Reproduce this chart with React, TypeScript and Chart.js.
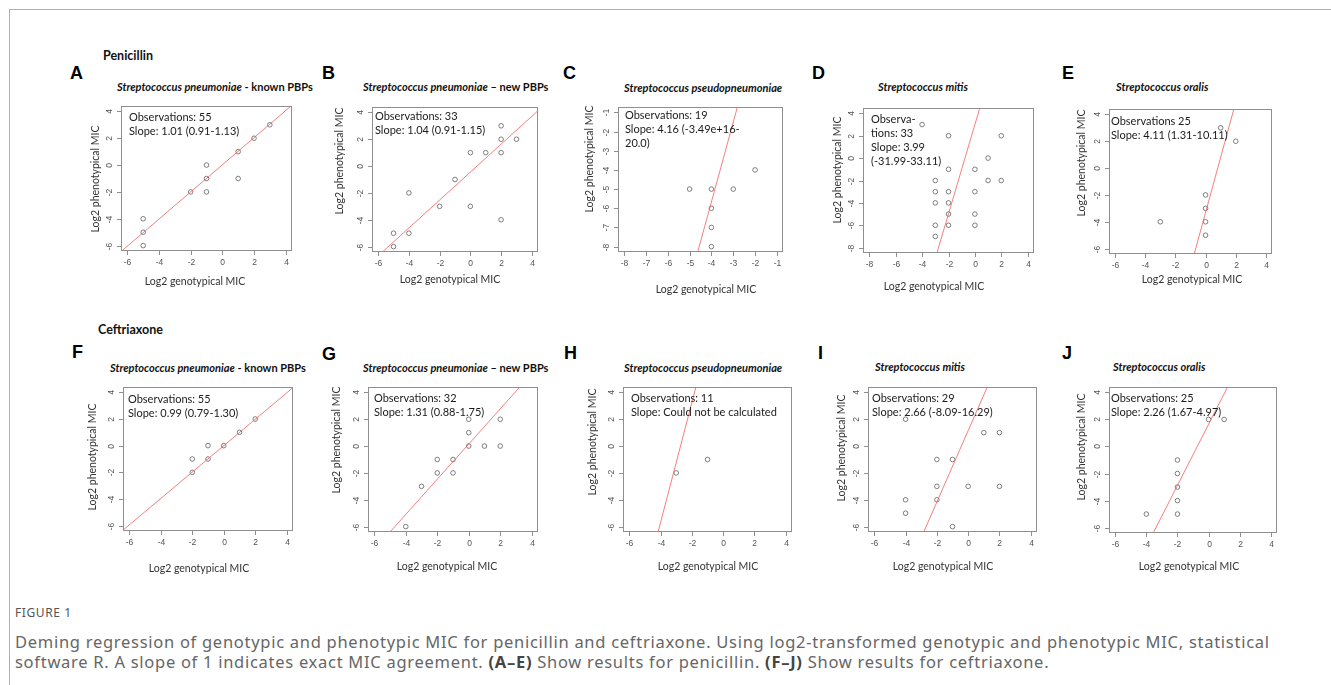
import React, { useEffect, useRef } from 'react';
import { Chart, registerables } from 'chart.js';

Chart.register(...registerables);

// ---------- text ----------
const panelLetters = ['A', 'B', 'C', 'D', 'E', 'F', 'G', 'H', 'I', 'J'];
const drugHeadings = ['Penicillin', 'Ceftriaxone'];
const speciesItalic = [
  'Streptococcus pneumoniae', 'Streptococcus pneumoniae', 'Streptococcus pseudopneumoniae', 'Streptococcus mitis', 'Streptococcus oralis',
  'Streptococcus pneumoniae', 'Streptococcus pneumoniae', 'Streptococcus pseudopneumoniae', 'Streptococcus mitis', 'Streptococcus oralis',
];
const speciesSuffix = [' - known PBPs', ' \u2013 new PBPs', '', '', '', ' - known PBPs', ' \u2013 new PBPs', '', '', ''];
const annotationLines = [
  ['Observations: 55', 'Slope: 1.01 (0.91-1.13)'],
  ['Observations: 33', 'Slope: 1.04 (0.91-1.15)'],
  ['Observations: 19', 'Slope: 4.16 (-3.49e+16-', '20.0)'],
  ['Observa-', 'tions: 33', 'Slope: 3.99', '(-31.99-33.11)'],
  ['Observations 25', 'Slope: 4.11 (1.31-10.11)'],
  ['Observations: 55', 'Slope: 0.99 (0.79-1.30)'],
  ['Observations: 32', 'Slope: 1.31 (0.88-1.75)'],
  ['Observations: 11', 'Slope: Could not be calculated'],
  ['Observations: 29', 'Slope: 2.66 (-8.09-16.29)'],
  ['Observations: 25', 'Slope: 2.26 (1.67-4.97)'],
];
const xAxisTitle = 'Log2 genotypical MIC';
const yAxisTitle = 'Log2 phenotypical MIC';

// ---------- tick labels ----------
const ticksStd = [-6, -4, -2, 0, 2, 4];
const ticksPseudo = [-8, -7, -6, -5, -4, -3, -2, -1];
const ticksMitis = [-8, -6, -4, -2, 0, 2, 4];
const xTicks = [ticksStd, ticksStd, ticksPseudo, ticksMitis, ticksStd, ticksStd, ticksStd, ticksStd, ticksStd, ticksStd];
const yTicks = [ticksStd, ticksStd, ticksPseudo, ticksMitis, ticksStd, ticksStd, ticksStd, ticksStd, ticksStd, ticksStd];

// ---------- data: log2 genotypical (x) vs phenotypical (y) MIC ----------
const aX = [-5, -5, -5, -2, -1, -1, -1, 1, 1, 2, 3];
const aY = [-4, -5, -6, -2, 0, -1, -2, 1, -1, 2, 3];
const bX = [-5, -5, -4, -4, -2, -1, 0, 0, 1, 2, 2, 2, 2, 3];
const bY = [-5, -6, -2, -5, -3, -1, 1, -3, 1, 3, 2, 1, -4, 2];
const cX = [-5, -4, -3, -2, -4, -4, -4];
const cY = [-5, -5, -5, -4, -6, -7, -8];
const dX = [-4, -2, 2, 1, -2, 0, -3, 1, 2, -3, -2, 0, -3, -2, -2, 0, -3, -2, 0, -3];
const dY = [3, 2, 2, 0, -1, -1, -2, -2, -2, -3, -3, -3, -4, -4, -5, -5, -6, -6, -6, -7];
const eX = [-3, 0, 0, 0, 0, 1, 2];
const eY = [-4, -2, -3, -4, -5, 3, 2];
const fX = [-2, -2, -1, -1, 0, 1, 2];
const fY = [-1, -2, 0, -1, 0, 1, 2];
const gX = [-4, -3, -2, -2, -1, -1, 0, 0, 0, 1, 2, 2];
const gY = [-6, -3, -1, -2, -1, -2, 2, 1, 0, 0, 2, 0];
const hX = [-3, -1];
const hY = [-2, -1];
const iX = [-4, 1, 2, -2, -1, -2, 0, 2, -4, -2, -4, -1];
const iY = [2, 1, 1, -1, -1, -3, -3, -3, -4, -4, -5, -6];
const jX = [0, 1, -2, -2, -2, -2, -2, -4];
const jY = [2, 2, -1, -2, -3, -4, -5, -5];
const panelX = [aX, bX, cX, dX, eX, fX, gX, hX, iX, jX];
const panelY = [aY, bY, cY, dY, eY, fY, gY, hY, iY, jY];

// Deming regression lines (slope, intercept)
const lineSlopes = [1.01, 1.04, 4.16, 3.99, 4.11, 0.99, 1.31, 4.46, 2.66, 2.26];
const lineIntercepts = [0.02, -0.45, 10.97, 3.0, -3.3, 0.0, 0.15, 12.15, 1.15, 1.64];

// ---------- layout (page pixels) ----------
const boxes = [
  [121, 106, 292, 251], [372, 107, 538, 252], [618, 107, 783, 252], [863, 108, 1034, 253], [1109, 109, 1272, 254],
  [123, 387, 293, 531], [368, 387, 538, 532], [623, 387, 792, 532], [868, 387, 1037, 532], [1109, 387, 1277, 533],
];
const xTitlePos = [
  [195, 282], [450, 280], [706, 290], [934, 287], [1192, 280],
  [199, 569], [447, 567], [708, 567], [943, 567], [1189, 567],
];
const yTitlePos = [
  [96, 179], [340, 161], [590, 159], [838, 170], [1082, 163],
  [93, 457], [337, 440], [593, 442], [842, 448], [1082, 447],
];
const notePos = [
  [129, 117], [375, 116], [625, 115], [871, 119], [1111, 121],
  [128, 399], [374, 398], [631, 398], [872, 398], [1111, 398],
];
const letterPos = [
  [70, 73], [322, 73], [563, 73], [812, 73], [1062, 73],
  [72, 352], [322, 354], [564, 353], [818, 353], [1062, 353],
];
const titlePos = [
  [117, 87], [363, 87], [624, 88], [878, 87], [1116, 87],
  [110, 368], [363, 368], [624, 368], [875, 367], [1113, 367],
];
const headingPos = [[103, 56], [98, 330]];

const PAD_L = 46, PAD_T = 6, PAD_R = 8, PAD_B = 48;

const rPlot = {
  id: 'rPlot',
  afterDatasetsDraw(chart: any, _args: any, opts: any) {
    const { ctx, chartArea: a, scales } = chart;
    const xs = scales.x, ys = scales.y;
    const i: number = opts.i;
    const ox: number = opts.ox, oy: number = opts.oy;
    ctx.save();
    ctx.strokeStyle = '#8f8f8f';
    ctx.lineWidth = 1;
    ctx.strokeRect(a.left + 0.5, a.top + 0.5, a.right - a.left - 1, a.bottom - a.top - 1);
    ctx.font = '8.5px "Liberation Sans"';
    ctx.fillStyle = '#555';
    ctx.textAlign = 'center';
    ctx.textBaseline = 'middle';
    for (const t of xTicks[i]) {
      const px = Math.round(xs.getPixelForValue(t)) + 0.5;
      ctx.beginPath();
      ctx.moveTo(px, a.bottom);
      ctx.lineTo(px, a.bottom + 4);
      ctx.stroke();
      ctx.fillText(String(t), px, a.bottom + 12);
    }
    for (const t of yTicks[i]) {
      const py = Math.round(ys.getPixelForValue(t)) + 0.5;
      ctx.beginPath();
      ctx.moveTo(a.left, py);
      ctx.lineTo(a.left - 4, py);
      ctx.stroke();
      ctx.save();
      ctx.translate(a.left - 11, py);
      ctx.rotate(-Math.PI / 2);
      ctx.fillText(String(t), 0, 0);
      ctx.restore();
    }
    ctx.font = '10.5px Lato';
    ctx.fillStyle = '#333';
    ctx.fillText(xAxisTitle, xTitlePos[i][0] - ox, xTitlePos[i][1] - oy);
    ctx.save();
    ctx.translate(yTitlePos[i][0] - ox, yTitlePos[i][1] - oy);
    ctx.rotate(-Math.PI / 2);
    ctx.fillText(yAxisTitle, 0, 0);
    ctx.restore();
    ctx.font = '11px Lato';
    ctx.fillStyle = '#1a1a1a';
    ctx.textAlign = 'left';
    annotationLines[i].forEach((s, k) => {
      ctx.fillText(s, notePos[i][0] - ox, notePos[i][1] - oy + k * 14);
    });
    ctx.restore();
  },
};

function Panel({ i }: { i: number }) {
  const ref = useRef<HTMLCanvasElement>(null);
  const [L, T, R, B] = boxes[i];
  const w = R - L + PAD_L + PAD_R;
  const h = B - T + PAD_T + PAD_B;
  const ox = L - PAD_L;
  const oy = T - PAD_T;

  useEffect(() => {
    const xt = xTicks[i];
    const yt = yTicks[i];
    const xr = xt[xt.length - 1] - xt[0];
    const yr = yt[yt.length - 1] - yt[0];
    const xmin = xt[0] - 0.04 * xr;
    const xmax = xt[xt.length - 1] + 0.04 * xr;
    const ymin = yt[0] - 0.04 * yr;
    const ymax = yt[yt.length - 1] + 0.04 * yr;
    const pts = panelX[i].map((x, k) => ({ x, y: panelY[i][k] }));
    const lineData = [xmin, xmax].map((x) => ({ x, y: lineSlopes[i] * x + lineIntercepts[i] }));
    const chart = new Chart(ref.current as HTMLCanvasElement, {
      type: 'scatter',
      data: {
        datasets: [
          {
            type: 'line',
            data: lineData,
            borderColor: 'rgba(242, 95, 95, 0.8)',
            borderWidth: 1,
            pointRadius: 0,
            showLine: true,
            fill: false,
            clip: 0,
          } as any,
          {
            type: 'scatter',
            data: pts,
            pointRadius: 2.3,
            pointBorderWidth: 0.8,
            borderColor: '#5f5f5f',
            backgroundColor: 'rgba(0,0,0,0)',
            pointStyle: 'circle',
          } as any,
        ],
      },
      options: {
        responsive: false,
        animation: false,
        devicePixelRatio: 1,
        events: [],
        layout: { padding: { left: PAD_L, top: PAD_T, right: PAD_R, bottom: PAD_B } },
        scales: {
          x: { type: 'linear', min: xmin, max: xmax, display: false },
          y: { type: 'linear', min: ymin, max: ymax, display: false },
        },
        plugins: {
          legend: { display: false },
          tooltip: { enabled: false },
          rPlot: { i, ox, oy },
        } as any,
      },
      plugins: [rPlot],
    });
    return () => chart.destroy();
  }, [i, ox, oy]);

  return (
    <canvas
      ref={ref}
      width={w}
      height={h}
      style={{ position: 'absolute', left: ox, top: oy, width: w, height: h }}
    />
  );
}

const abs = (x: number, cy: number, lh: number): React.CSSProperties => ({
  position: 'absolute',
  left: x,
  top: cy - lh / 2,
  lineHeight: lh + 'px',
  whiteSpace: 'nowrap',
});

export default function App() {
  return (
    <div
      style={{
        position: 'fixed',
        left: 0,
        top: 0,
        width: 1331,
        height: 685,
        background: '#fff',
        overflow: 'hidden',
        fontFamily: 'Lato, sans-serif',
      }}
    >
      <div
        style={{
          position: 'absolute',
          left: 9,
          top: 9,
          width: 1400,
          height: 800,
          borderTop: '1px solid #b0b0b0',
          borderLeft: '1px solid #b0b0b0',
        }}
      />
      {drugHeadings.map((s, k) => (
        <div key={s} style={{ ...abs(headingPos[k][0], headingPos[k][1], 16), fontWeight: 700, fontSize: 12.5, color: '#111' }}>
          {s}
        </div>
      ))}
      {panelLetters.map((s, k) => (
        <div
          key={s}
          style={{
            ...abs(letterPos[k][0], letterPos[k][1], 22),
            fontFamily: '"Liberation Sans", Arial, sans-serif',
            fontWeight: 700,
            fontSize: 18,
            color: '#000',
          }}
        >
          {s}
        </div>
      ))}
      {panelLetters.map((s, k) => (
        <div key={'t' + s} style={{ ...abs(titlePos[k][0], titlePos[k][1], 14), fontWeight: 700, fontSize: 11, color: '#111' }}>
          <i>{speciesItalic[k]}</i>
          {speciesSuffix[k]}
        </div>
      ))}
      {panelLetters.map((s, k) => (
        <Panel key={'p' + s} i={k} />
      ))}
      <div style={{ ...abs(15, 613, 16), fontFamily: '"Noto Sans", sans-serif', fontSize: 12, color: '#555', letterSpacing: 0.6 }}>
        FIGURE 1
      </div>
      <div
        style={{
          position: 'absolute',
          left: 15,
          top: 632,
          lineHeight: '20px',
          fontFamily: '"Noto Sans", sans-serif',
          fontSize: 16.5,
          letterSpacing: 0.72,
          color: '#666',
          whiteSpace: 'nowrap',
        }}
      >
        Deming regression of genotypic and phenotypic MIC for penicillin and ceftriaxone. Using log2-transformed genotypic and phenotypic MIC, statistical
        <br />
        software R. A slope of 1 indicates exact MIC agreement. <b style={{ color: '#444' }}>(A–E)</b> Show results for penicillin.{' '}
        <b style={{ color: '#444' }}>(F–J)</b> Show results for ceftriaxone.
      </div>
    </div>
  );
}
